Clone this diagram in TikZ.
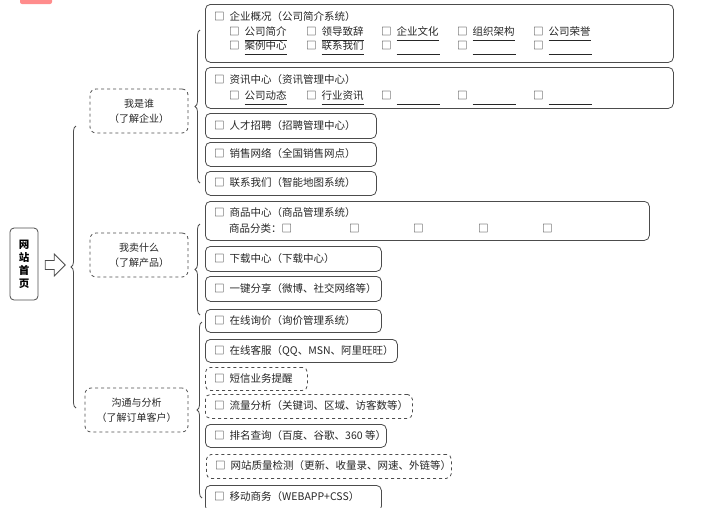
\documentclass[tikz,border=0pt]{standalone}
\usepackage{fontspec}
\setmainfont{Noto Sans CJK SC}
\usetikzlibrary{decorations.pathreplacing,shapes.arrows}
\begin{document}
\begin{tikzpicture}[x=1pt,y=-1pt,
  box/.style={draw=black!70,line width=0.8pt,rounded corners=5pt,anchor=north west,inner sep=0pt},
  dbox/.style={box,dashed},
  txt/.style={anchor=base west,inner sep=0pt,yshift=-3.8pt,font=\fontsize{10.5}{12}\selectfont,text=black!85},
  grp/.style={draw=black!70,line width=0.8pt,dashed,rounded corners=6pt,align=center,inner sep=0pt,font=\fontsize{10}{15}\selectfont,text=black!85},
  br/.style={draw=black!70,line width=0.8pt,decorate,decoration={brace,amplitude=5pt}}]
\newcommand{\cb}{□\hspace{5pt}}
\newcommand{\myul}[1]{\underline{\vphantom{字gy}#1}}
\newcommand{\bl}{\myul{\hspace{43pt}}}
\useasboundingbox (0,0) rectangle (704,507);
% red tab
\fill[red!45!white,rounded corners=2pt] (20,-4) rectangle (52,4);
% root
\node[draw=black!70,line width=0.8pt,rounded corners=4pt,minimum width=28pt,minimum height=72pt,align=center,inner sep=0pt,font=\fontsize{10.5}{13}\selectfont\bfseries] (root) at (24,264) {网\\站\\首\\页};
\node[single arrow,draw=black!70,line width=0.8pt,minimum height=20pt,minimum width=22pt,single arrow head extend=2pt,inner sep=1pt] (arr) at (53,265) {};
\draw[br] (76,408) -- (76,126);
% groups
\node[grp,minimum width=98pt,minimum height=44pt] (g1) at (139,111) {我是谁\\（了解企业）};
\node[grp,minimum width=98pt,minimum height=44pt] (g2) at (139,255) {我卖什么\\（了解产品）};
\node[grp,minimum width=103pt,minimum height=44pt] (g3) at (136.5,410) {沟通与分析\\（了解订单客户）};
\draw[br] (200,183) -- (200,30);
\draw[br] (200,315) -- (200,224);
\draw[br] (202,498) -- (202,322);
% box 1
\node[box,minimum width=468pt,minimum height=58pt] (b1) at (205,4) {};
\node[txt] (t1) at (214,17) {\cb 企业概况（公司简介系统）};
\node[txt] at (229,32) {\cb\myul{公司简介}};
\node[txt] at (306,32) {\cb\myul{领导致辞}};
\node[txt] at (381,32) {\cb\myul{企业文化}};
\node[txt] at (457,32) {\cb\myul{组织架构}};
\node[txt] at (533,32) {\cb\myul{公司荣誉}};
\node[txt] at (229,46) {\cb\myul{案例中心}};
\node[txt] at (306,46) {\cb\myul{联系我们}};
\node[txt] at (381,46) {\cb\bl};
\node[txt] at (457,46) {\cb\bl};
\node[txt] at (533,46) {\cb\bl};
% box 2
\node[box,minimum width=468pt,minimum height=41pt] (b2) at (205,67) {};
\node[txt] at (214,80) {\cb 资讯中心（资讯管理中心）};
\node[txt] at (229,96) {\cb\myul{公司动态}};
\node[txt] at (306,96) {\cb\myul{行业资讯}};
\node[txt] at (381,96) {\cb\bl};
\node[txt] at (457,96) {\cb\bl};
\node[txt] at (533,96) {\cb\bl};
% simple boxes
\node[box,minimum width=171pt,minimum height=25pt] (b3) at (205,113) {};
\node[txt] at (214,125.5) {\cb 人才招聘（招聘管理中心）};
\node[box,minimum width=171pt,minimum height=24pt] (b4) at (205,142) {};
\node[txt] at (214,154) {\cb 销售网络（全国销售网点）};
\node[box,minimum width=171pt,minimum height=24pt] (b5) at (205,171) {};
\node[txt] at (214,183) {\cb 联系我们（智能地图系统）};
\node[box,minimum width=444pt,minimum height=39pt] (b6) at (205,201) {};
\node[txt] at (214,213) {\cb 商品中心（商品管理系统）};
\node[txt] at (229,229) {商品分类：□};
\node[txt] at (349,229) {□};
\node[txt] at (413,229) {□};
\node[txt] at (478,229) {□};
\node[txt] at (542,229) {□};
\node[box,minimum width=176pt,minimum height=25pt] (b7) at (205,246) {};
\node[txt] at (214,258.5) {\cb 下载中心（下载中心）};
\node[box,minimum width=176pt,minimum height=25pt] (b8) at (205,276) {};
\node[txt] at (214,288.5) {\cb 一键分享（微博、社交网络等）};
\node[box,minimum width=176pt,minimum height=23pt] (b9) at (205,309) {};
\node[txt] at (214,320.5) {\cb 在线询价（询价管理系统）};
\node[box,minimum width=192pt,minimum height=23pt] (b10) at (205,339) {};
\node[txt] at (214,350.5) {\cb 在线客服（QQ、MSN、阿里旺旺）};
\node[dbox,minimum width=102pt,minimum height=23pt] (b11) at (205,367) {};
\node[txt] at (214,378.5) {\cb 短信业务提醒};
\node[dbox,minimum width=207pt,minimum height=24pt] (b12) at (205,394) {};
\node[txt] at (214,406) {\cb 流量分析（关键词、区域、访客数等）};
\node[box,minimum width=181pt,minimum height=23pt] (b13) at (205,424) {};
\node[txt] at (214,435.5) {\cb 排名查询（百度、谷歌、360 等）};
\node[dbox,minimum width=245pt,minimum height=24pt] (b14) at (206,454) {};
\node[txt] at (215,466) {\cb 网站质量检测（更新、收量录、网速、外链等）};
\node[box,minimum width=176pt,minimum height=26pt] (b15) at (205,485) {};
\node[txt] at (214,497) {\cb 移动商务（WEBAPP+CSS）};
\end{tikzpicture}
\end{document}
